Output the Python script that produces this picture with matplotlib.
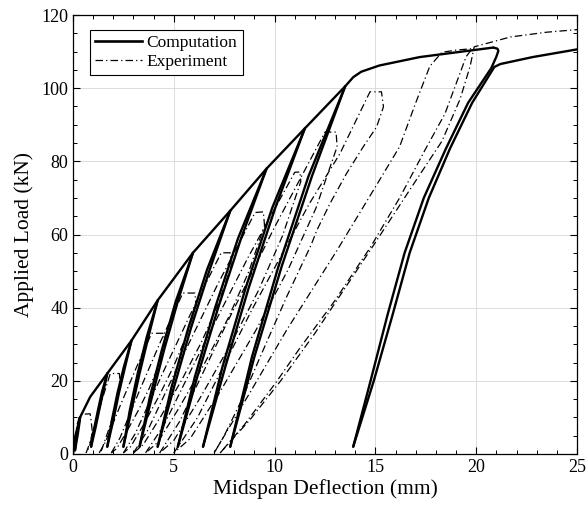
import matplotlib
matplotlib.use("Agg")
import matplotlib.pyplot as plt
from matplotlib.lines import Line2D
from matplotlib.ticker import MultipleLocator

# ---- computation: envelope, unload / reload branches of each cycle ----
comp_env_x = [0, 0.12, 0.35, 0.85, 1.7, 2.9, 4.2, 5.95, 7.8, 9.6, 11.5, 13.5,
              13.9, 14.3, 15.2, 17.2, 19.3, 20.85]
comp_env_y = [0, 5, 10, 15.6, 22, 31, 42, 55, 66.5, 78, 89, 100.5,
              103, 104.5, 106.2, 108.5, 110, 111.1]

comp_unload_x = [
    [0.35, 0.27, 0.2, 0.14, 0.1],
    [1.7, 1.44, 1.24, 1.05, 0.9],
    [2.9, 2.52, 2.2, 1.93, 1.7],
    [4.2, 3.66, 3.21, 2.82, 2.5],
    [5.95, 5.1, 4.41, 3.8, 3.3],
    [7.8, 6.65, 5.71, 4.88, 4.2],
    [9.6, 8.19, 7.05, 6.04, 5.2],
    [11.5, 9.88, 8.57, 7.41, 6.45],
    [13.5, 11.68, 10.19, 8.88, 7.8],
    [20.85, 21.05, 21.1, 21.0, 20.75, 19.6, 18.5, 17.4, 16.45, 15.6, 14.77, 13.9],
]
comp_unload_y = [
    [10, 7.75, 5.5, 3.25, 1],
    [22, 17, 12, 7, 2],
    [31, 23.75, 16.5, 9.25, 2],
    [42, 32, 22, 12, 2],
    [55, 41.75, 28.5, 15.25, 2],
    [66.5, 50.4, 34.25, 18.1, 2],
    [78, 59, 40, 21, 2],
    [89, 67.25, 45.5, 23.75, 2],
    [100.5, 75.9, 51.25, 26.6, 2],
    [111.1, 110.8, 110.2, 108.6, 105.5, 96, 83.5, 70, 55, 38, 20.2, 2],
]
comp_reload_x = [
    [0.1, 0.17, 0.24, 0.3, 0.35],
    [0.9, 1.11, 1.3, 1.5, 1.7],
    [1.7, 2.0, 2.27, 2.58, 2.9],
    [2.5, 2.9, 3.3, 3.74, 4.2],
    [3.3, 3.9, 4.52, 5.2, 5.95],
    [4.2, 5.0, 5.84, 6.78, 7.8],
    [5.2, 6.16, 7.2, 8.34, 9.6],
    [6.45, 7.55, 8.72, 10.03, 11.5],
    [7.8, 9.0, 10.35, 11.85, 13.5],
    [13.9, 14.92, 15.85, 16.7, 17.65, 18.7, 19.8, 20.9, 21.2, 22.8, 25.0],
]
comp_reload_y = [
    [1, 3.25, 5.5, 7.75, 10],
    [2, 7, 12, 17, 22],
    [2, 9.25, 16.5, 23.75, 31],
    [2, 12, 22, 32, 42],
    [2, 15.25, 28.5, 41.75, 55],
    [2, 18.1, 34.25, 50.4, 66.5],
    [2, 21, 40, 59, 78],
    [2, 23.75, 45.5, 67.25, 89],
    [2, 26.6, 51.25, 75.9, 100.5],
    [2, 20, 38, 55, 70, 83.5, 96, 105.8, 106.6, 108.5, 110.6],
]

# ---- experiment: one path per cycle (reload, hold, drop, unload) ----
exp_x = [
    [0, 0.1, 0.2, 0.35, 0.85, 0.9, 0.95, 0.9, 0.8, 0.65],
    [0.65, 0.8, 1.1, 1.45, 1.85, 2.3, 2.35, 2.21, 2.04, 1.83, 1.59, 1.41, 1.3],
    [1.3, 1.61, 2.34, 3.1, 3.9, 4.5, 4.55, 4.21, 3.76, 3.23, 2.64, 2.17, 1.9],
    [1.9, 2.33, 3.32, 4.35, 5.45, 6.05, 6.1, 5.63, 5.02, 4.3, 3.51, 2.86, 2.5],
    [2.5, 3.08, 4.44, 5.85, 7.35, 7.8, 7.85, 7.22, 6.4, 5.43, 4.36, 3.49, 3.0],
    [3.0, 3.72, 5.41, 7.16, 9.03, 9.44, 9.5, 8.73, 7.73, 6.55, 5.25, 4.19, 3.6],
    [3.6, 4.49, 6.56, 8.7, 11.0, 11.26, 11.3, 10.39, 9.2, 7.8, 6.26, 5.0, 4.3],
    [4.3, 5.28, 7.58, 9.96, 12.5, 13.05, 13.1, 12.05, 10.67, 9.05, 7.27, 5.81, 5.0],
    [5.0, 6.17, 8.89, 11.71, 13.24, 14.73, 15.3, 15.4, 15.06, 14.4, 13.57, 12.75,
     12.1, 11.8, 10.6, 9.4, 8.3, 7.5, 7.0],
    [7.0, 8.8, 10.6, 13.1, 15.0, 16.2, 17.0, 17.7, 18.3, 19.0, 19.8, 19.5, 18.45,
     17.5, 16.2, 14.75, 13.0, 11.26, 10.1, 8.5, 7.3],
    [7.3, 8.8, 10.3, 12.0, 14.9, 16.8, 18.3, 19.2, 19.7, 19.9, 21.7, 23.5, 25.0],
]
exp_y = [
    [0, 4, 8, 10.8, 11, 9, 6.5, 4, 1.8, 0.3],
    [0.3, 2.5, 8.5, 15, 22, 22, 19, 15.2, 11.4, 7.6, 3.8, 0.95, 0.3],
    [0.3, 3.3, 13.2, 23.1, 33, 33, 29.5, 23.6, 17.7, 11.8, 5.9, 1.5, 0.3],
    [0.3, 4.4, 17.6, 30.8, 44, 44, 40.5, 32.4, 24.3, 16.2, 8.1, 2.0, 0.3],
    [0.3, 5.5, 22, 38.5, 55, 55, 51.5, 41.2, 30.9, 20.6, 10.3, 2.6, 0.3],
    [0.3, 6.6, 26.4, 46.2, 66, 66.2, 62.5, 50, 37.5, 25, 12.5, 3.1, 0.3],
    [0.3, 7.7, 30.8, 53.9, 77, 77.1, 74.5, 59.6, 44.7, 29.8, 14.9, 3.7, 0.3],
    [0.3, 8.8, 35.2, 61.6, 88, 88, 84, 67.2, 50.4, 33.6, 16.8, 4.2, 0.3],
    [0.3, 9.9, 39.6, 68.3, 82.1, 99, 99, 94.9, 89.4, 84, 76.7, 68.5,
     61.2, 57, 43, 28, 14, 5, 0.3],
    [0.3, 17, 33.9, 55.7, 73, 84, 96, 106, 109.8, 110.4, 110.8, 108.6, 93,
     83.5, 70, 56.5, 42, 29, 19.8, 8, 0.3],
    [0.3, 9.5, 20, 33, 57, 73, 85.5, 97, 106, 111.3, 114, 115.3, 116],
]

plt.rcParams.update({
    "font.family": "serif",
    "font.serif": ["Liberation Serif", "DejaVu Serif"],
    "axes.linewidth": 0.9,
})

fig = plt.figure(figsize=(5.88, 5.12), dpi=100)
ax = fig.add_axes([73 / 588, 1 - 454 / 512, 504 / 588, 439 / 512])

comp_style = dict(color="black", linewidth=1.7, solid_capstyle="round",
                  solid_joinstyle="round", zorder=3)
exp_dash = (0, (6, 2.5, 1, 2.5))
exp_style = dict(color="black", linewidth=0.9, linestyle=exp_dash, zorder=2)

ax.plot(comp_env_x, comp_env_y, **comp_style)
for xs, ys in zip(comp_unload_x, comp_unload_y):
    ax.plot(xs, ys, **comp_style)
for xs, ys in zip(comp_reload_x, comp_reload_y):
    ax.plot(xs, ys, **comp_style)
for xs, ys in zip(exp_x, exp_y):
    ax.plot(xs, ys, **exp_style)

ax.set_xlim(0, 25)
ax.set_ylim(0, 120)
ax.xaxis.set_major_locator(MultipleLocator(5))
ax.xaxis.set_minor_locator(MultipleLocator(1))
ax.yaxis.set_major_locator(MultipleLocator(20))
ax.yaxis.set_minor_locator(MultipleLocator(5))
ax.tick_params(which="both", direction="in", top=True, right=True, labelsize=13)
ax.tick_params(which="major", length=5, width=0.8)
ax.tick_params(which="minor", length=3, width=0.7)
ax.grid(True, which="major", color="#dcdcdc", linewidth=0.7)
ax.set_axisbelow(True)

ax.set_xlabel("Midspan Deflection (mm)", fontsize=15.5, labelpad=2)
ax.set_ylabel("Applied Load (kN)", fontsize=15.5, labelpad=5)

handles = [
    Line2D([], [], color="black", linewidth=1.9),
    Line2D([], [], color="black", linewidth=0.9, linestyle=exp_dash),
]
leg = ax.legend(handles, ["Computation", "Experiment"], loc="upper left",
                bbox_to_anchor=(0.034, 0.966), borderaxespad=0, fontsize=12.5,
                fancybox=False, framealpha=1, edgecolor="black",
                handlelength=2.7, handletextpad=0.25, borderpad=0.3,
                labelspacing=0.15)
leg.get_frame().set_linewidth(0.8)

fig.savefig("out.png", dpi=100, facecolor="white")
